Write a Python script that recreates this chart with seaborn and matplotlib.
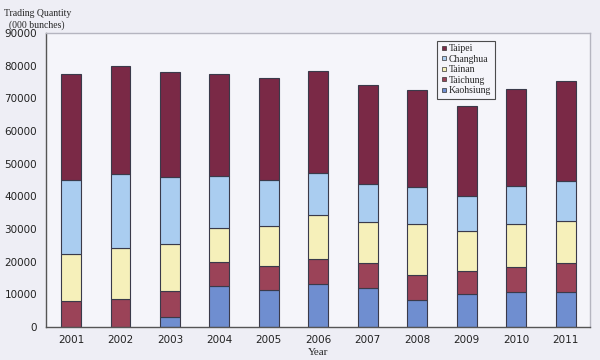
import matplotlib
matplotlib.use("Agg")
import matplotlib.pyplot as plt
from matplotlib.lines import Line2D
from matplotlib.ticker import MultipleLocator, FixedLocator
import seaborn as sns
import numpy as np

# data (000 bunches)
years = ["2001", "2002", "2003", "2004", "2005", "2006", "2007", "2008", "2009", "2010", "2011"]
kaohsiung = [0, 0, 2900, 12600, 11400, 13200, 12000, 8300, 10100, 10700, 10800]
taichung = [8000, 8600, 8100, 7200, 7200, 7700, 7500, 7500, 7000, 7600, 8700]
tainan = [14200, 15700, 14500, 10600, 12400, 13400, 12500, 15700, 12400, 13100, 13000]
changhua = [22800, 22500, 20500, 15700, 14100, 12900, 11800, 11400, 10700, 11800, 12200]
taipei = [32400, 33000, 32200, 31500, 31000, 31300, 30300, 29600, 27500, 29700, 30500]

series = [
    ("Kaohsiung", kaohsiung, "#6f8ed0"),
    ("Taichung", taichung, "#9b4358"),
    ("Tainan", tainan, "#f6f0ba"),
    ("Changhua", changhua, "#aacdf0"),
    ("Taipei", taipei, "#7a2946"),
]

sns.set_style("white")
plt.rcParams["font.family"] = ["DejaVu Sans"]

fig = plt.figure(figsize=(6, 3.6), dpi=100, facecolor="#eeeef5")
ax = fig.add_axes([0.077, 0.092, 0.907, 0.816])
ax.set_facecolor("#f5f5fa")

cum = np.zeros(len(years))
for name, vals, col in series:
    sns.barplot(x=years, y=vals, bottom=cum, color=col, width=0.4,
                edgecolor="#3a3a4a", linewidth=0.8, saturation=1, ax=ax)
    cum += np.array(vals)

ax.set_xlim(-0.5, len(years) - 0.5)
ax.set_ylim(0, 90000)
ax.yaxis.set_major_locator(MultipleLocator(10000))
ax.xaxis.set_minor_locator(FixedLocator(np.arange(0.5, len(years) - 1, 1)))
ax.tick_params(axis="x", which="major", length=0, labelsize=7.5, pad=6, colors="#222222")
ax.tick_params(axis="x", which="minor", length=3, direction="in", color="#333333")
ax.tick_params(axis="y", which="major", length=3, direction="out", labelsize=7.5, colors="#222222")

for side in ["left", "bottom"]:
    ax.spines[side].set_color("#555555")
    ax.spines[side].set_linewidth(1)
for side in ["top", "right"]:
    ax.spines[side].set_color("#b5b5c0")
    ax.spines[side].set_linewidth(1)

ax.set_xlabel("Year", fontsize=8, family="Liberation Serif", labelpad=2)
ax.set_ylabel("")
fig.text(0.062, 0.975, "Trading Quantity\n(000 bunches)", ha="center", va="top",
         fontsize=7, family="Liberation Serif", linespacing=1.3)

handles = [Line2D([0], [0], marker="s", linestyle="", markersize=3.5,
                  markerfacecolor=col, markeredgecolor="#333333", markeredgewidth=0.5)
           for name, vals, col in series[::-1]]
labels = [name for name, vals, col in series[::-1]]
leg = ax.legend(handles, labels, loc="upper left", bbox_to_anchor=(0.71, 0.99),
                frameon=True, fancybox=False, edgecolor="#222222", facecolor="#f5f5fa",
                prop={"family": "Liberation Serif", "size": 7}, handlelength=0.6,
                handletextpad=0.25, labelspacing=0.15, borderpad=0.35)
leg.get_frame().set_linewidth(0.8)

fig.savefig("out.png", dpi=100, facecolor=fig.get_facecolor())
